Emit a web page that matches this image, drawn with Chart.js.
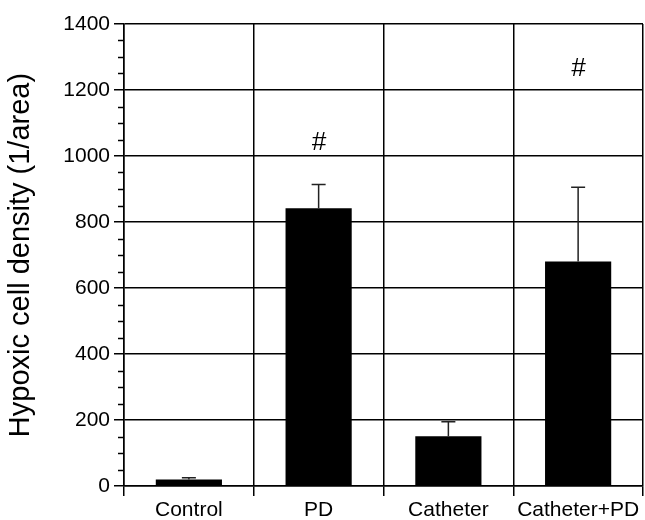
<!DOCTYPE html>
<html>
<head>
<meta charset="utf-8">
<script src="https://cdn.jsdelivr.net/npm/chart.js@4/dist/chart.umd.min.js"></script>
<style>
  html, body { margin: 0; padding: 0; background: #fff; }
  #wrap { width: 645px; height: 520px; }
</style>
</head>
<body>
<div id="wrap"><canvas id="chart" width="645" height="520"></canvas></div>
<script>
/* ---- data ---- */
const groups     = ['Control', 'PD', 'Catheter', 'Catheter+PD'];
const means      = [20, 842, 151, 680];
const errTops    = [25, 914, 195, 905];
const sigMarks   = ['', '#', '', '#'];
const sigLevels  = [null, 1040, null, 1265];
const yTicksMajor = [0, 200, 400, 600, 800, 1000, 1200, 1400];

const FONT = "'Liberation Sans', Arial, Helvetica, sans-serif";

/* error bars (upper only) */
const errorBarPlugin = {
  id: 'errorBars',
  afterDatasetsDraw(chart) {
    const ctx = chart.ctx;
    const y = chart.scales.y;
    const meta = chart.getDatasetMeta(0);
    ctx.save();
    ctx.strokeStyle = '#222';
    ctx.lineWidth = 1.5;
    meta.data.forEach((bar, i) => {
      const yTop = y.getPixelForValue(errTops[i]);
      const yBar = y.getPixelForValue(means[i]);
      ctx.beginPath();
      ctx.moveTo(bar.x, yBar);
      ctx.lineTo(bar.x, yTop);
      ctx.moveTo(bar.x - 7, yTop);
      ctx.lineTo(bar.x + 7, yTop);
      ctx.stroke();
    });
    ctx.restore();
  }
};

/* '#' significance marks */
const sigPlugin = {
  id: 'sigMarks',
  afterDatasetsDraw(chart) {
    const ctx = chart.ctx;
    const x = chart.scales.x;
    const y = chart.scales.y;
    ctx.save();
    ctx.fillStyle = '#000';
    ctx.font = 'italic 26px ' + FONT;
    ctx.textAlign = 'center';
    ctx.textBaseline = 'middle';
    sigMarks.forEach((m, i) => {
      if (!m) return;
      ctx.fillText(m, x.getPixelForValue(i), y.getPixelForValue(sigLevels[i]));
    });
    ctx.restore();
  }
};

/* minor ticks on the y axis */
const minorTickPlugin = {
  id: 'minorTicks',
  afterDraw(chart) {
    const ctx = chart.ctx;
    const y = chart.scales.y;
    const left = chart.chartArea.left;
    ctx.save();
    ctx.strokeStyle = '#000';
    ctx.lineWidth = 1.5;
    y.ticks.forEach(t => {
      if (t.value % 200 === 0) return;
      const py = Math.round(y.getPixelForValue(t.value)) + 0.5;
      ctx.beginPath();
      ctx.moveTo(left - 6, py);
      ctx.lineTo(left, py);
      ctx.stroke();
    });
    ctx.restore();
  }
};

const isMajor = c => c.tick && yTicksMajor.includes(c.tick.value);

new Chart(document.getElementById('chart'), {
  type: 'bar',
  data: {
    labels: groups,
    datasets: [{
      data: means,
      backgroundColor: '#000',
      borderWidth: 0,
      categoryPercentage: 1,
      barPercentage: 0.51,
    }],
  },
  options: {
    responsive: false,
    animation: false,
    devicePixelRatio: 1,
    layout: { padding: { top: 24, right: 2, left: 0, bottom: 0 } },
    plugins: {
      legend: { display: false },
      tooltip: { enabled: false },
    },
    scales: {
      x: {
        afterFit: s => { s.height = 34; },
        grid: {
          offset: true,
          color: '#000',
          lineWidth: 1.5,
          drawTicks: true,
          tickLength: 10,
        },
        border: { display: true, color: '#000', width: 1.5 },
        ticks: {
          color: '#000',
          padding: 2,
          font: { family: FONT, size: 21 },
        },
      },
      y: {
        min: 0,
        max: 1400,
        afterFit: s => { s.width = 124; },
        grid: {
          color: c => isMajor(c) ? '#000' : 'rgba(0,0,0,0)',
          tickColor: c => isMajor(c) ? '#000' : 'rgba(0,0,0,0)',
          lineWidth: 1.5,
          tickLength: 10,
        },
        border: { display: true, color: '#000', width: 1.5 },
        ticks: {
          stepSize: 50,
          autoSkip: false,
          color: '#000',
          padding: 4,
          font: { family: FONT, size: 21 },
          callback: v => yTicksMajor.includes(v) ? v : '',
        },
        title: {
          display: true,
          text: 'Hypoxic cell density (1/area)',
          color: '#000',
          font: { family: FONT, size: 29 },
          padding: { top: 4, bottom: 0 },
        },
      },
    },
  },
  plugins: [errorBarPlugin, sigPlugin, minorTickPlugin],
});
</script>
</body>
</html>
